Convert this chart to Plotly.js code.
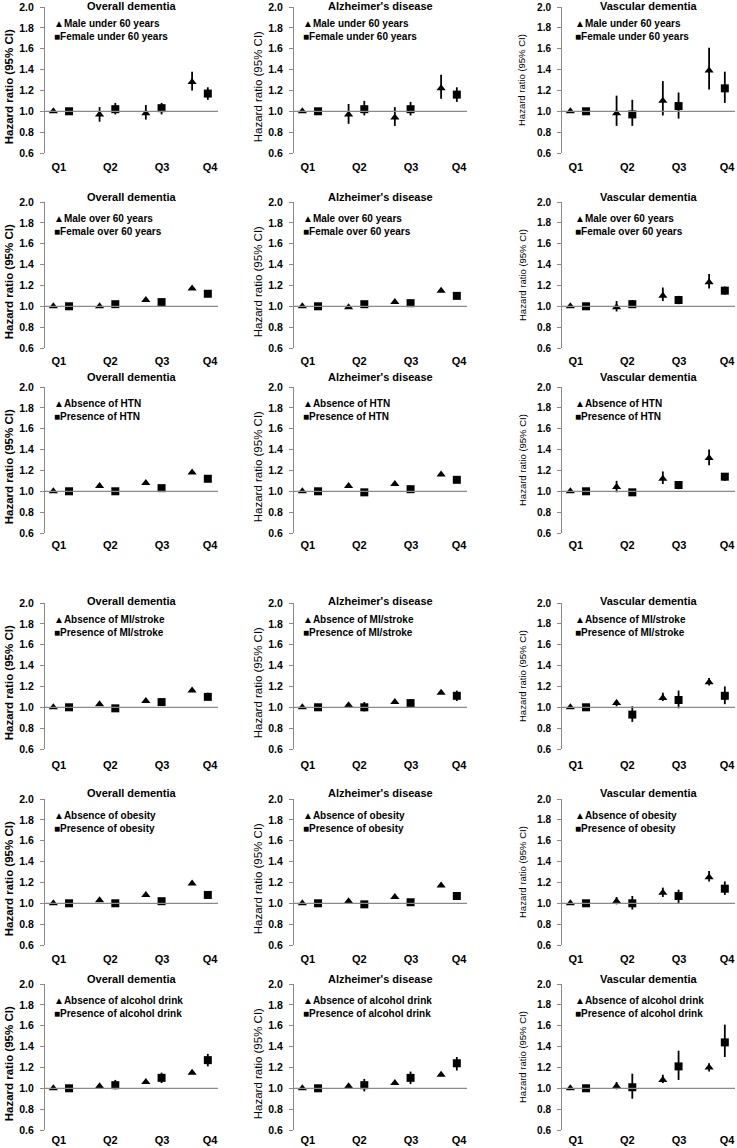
<!DOCTYPE html>
<html><head><meta charset="utf-8">
<script src="https://cdn.plot.ly/plotly-3.0.1.min.js"></script>
<style>body{margin:0;background:#fff}#chart{width:737px;height:1148px}</style>
</head><body><div id="chart"></div>
<script>
const quartiles = ["Q1", "Q2", "Q3", "Q4"];
const diseaseTitles = ["Overall dementia", "Alzheimer's disease", "Vascular dementia"];
const triangleLabels = ["Male under 60 years", "Male over 60 years", "Absence of HTN", "Absence of MI/stroke", "Absence of obesity", "Absence of alcohol drink"];
const squareLabels = ["Female under 60 years", "Female over 60 years", "Presence of HTN", "Presence of MI/stroke", "Presence of obesity", "Presence of alcohol drink"];
const yAxisTitle = "Hazard ratio (95% CI)";

// Panels in reading order (subgroup row x disease column); values for Q1..Q4
const triHR = [
  [1, 0.97, 0.98, 1.28], [1, 0.97, 0.94, 1.22], [1, 0.98, 1.10, 1.39],
  [1, 1.00, 1.06, 1.17], [1, 0.99, 1.04, 1.15], [1, 0.99, 1.10, 1.23],
  [1, 1.05, 1.08, 1.18], [1, 1.05, 1.07, 1.16], [1, 1.04, 1.12, 1.32],
  [1, 1.03, 1.06, 1.16], [1, 1.02, 1.05, 1.14], [1, 1.04, 1.09, 1.24],
  [1, 1.03, 1.08, 1.19], [1, 1.02, 1.06, 1.17], [1, 1.02, 1.10, 1.25],
  [1, 1.02, 1.06, 1.15], [1, 1.02, 1.05, 1.13], [1, 1.02, 1.08, 1.20]
];
const triLow = [
  [1, 0.90, 0.92, 1.20], [1, 0.88, 0.86, 1.12], [1, 0.86, 0.96, 1.21],
  [1, 0.99, 1.05, 1.16], [1, 0.98, 1.03, 1.14], [1, 0.95, 1.05, 1.17],
  [1, 1.04, 1.07, 1.17], [1, 1.04, 1.06, 1.15], [1, 0.99, 1.07, 1.25],
  [1, 1.02, 1.05, 1.15], [1, 1.01, 1.04, 1.13], [1, 1.01, 1.06, 1.21],
  [1, 1.02, 1.07, 1.18], [1, 1.01, 1.05, 1.16], [1, 0.99, 1.06, 1.21],
  [1, 1.01, 1.05, 1.14], [1, 1.01, 1.04, 1.12], [1, 0.99, 1.05, 1.16]
];
const triHigh = [
  [1, 1.04, 1.06, 1.38], [1, 1.07, 1.04, 1.35], [1, 1.15, 1.29, 1.61],
  [1, 1.01, 1.07, 1.19], [1, 1.00, 1.05, 1.17], [1, 1.05, 1.18, 1.31],
  [1, 1.06, 1.09, 1.20], [1, 1.06, 1.08, 1.17], [1, 1.10, 1.19, 1.40],
  [1, 1.04, 1.07, 1.17], [1, 1.03, 1.06, 1.15], [1, 1.07, 1.14, 1.28],
  [1, 1.04, 1.09, 1.20], [1, 1.03, 1.07, 1.18], [1, 1.06, 1.15, 1.31],
  [1, 1.03, 1.07, 1.16], [1, 1.03, 1.06, 1.14], [1, 1.06, 1.13, 1.24]
];
const sqHR = [
  [1, 1.02, 1.03, 1.17], [1, 1.02, 1.02, 1.16], [1, 0.97, 1.05, 1.22],
  [1, 1.02, 1.04, 1.12], [1, 1.02, 1.03, 1.10], [1, 1.02, 1.06, 1.15],
  [1, 1.00, 1.03, 1.12], [1, 0.99, 1.02, 1.11], [1, 0.99, 1.06, 1.14],
  [1, 0.99, 1.05, 1.10], [1, 1.00, 1.04, 1.11], [1, 0.93, 1.07, 1.11],
  [1, 1.00, 1.02, 1.08], [1, 0.99, 1.01, 1.07], [1, 1.00, 1.07, 1.14],
  [1, 1.03, 1.10, 1.27], [1, 1.03, 1.10, 1.24], [1, 1.01, 1.21, 1.44]
];
const sqLow = [
  [1, 0.97, 0.97, 1.11], [1, 0.96, 0.96, 1.09], [1, 0.86, 0.93, 1.08],
  [1, 1.01, 1.03, 1.11], [1, 1.01, 1.02, 1.09], [1, 0.99, 1.02, 1.11],
  [1, 0.99, 1.02, 1.11], [1, 0.98, 1.01, 1.10], [1, 0.96, 1.02, 1.10],
  [1, 0.96, 1.02, 1.07], [1, 0.96, 1.00, 1.06], [1, 0.86, 0.99, 1.03],
  [1, 0.99, 1.01, 1.07], [1, 0.98, 1.00, 1.06], [1, 0.94, 1.00, 1.08],
  [1, 0.99, 1.05, 1.21], [1, 0.97, 1.04, 1.17], [1, 0.90, 1.08, 1.30]
];
const sqHigh = [
  [1, 1.08, 1.08, 1.23], [1, 1.10, 1.09, 1.23], [1, 1.11, 1.18, 1.38],
  [1, 1.03, 1.05, 1.13], [1, 1.03, 1.04, 1.11], [1, 1.06, 1.10, 1.19],
  [1, 1.01, 1.04, 1.13], [1, 1.00, 1.03, 1.12], [1, 1.02, 1.09, 1.17],
  [1, 1.02, 1.08, 1.14], [1, 1.05, 1.08, 1.16], [1, 1.01, 1.16, 1.20],
  [1, 1.01, 1.03, 1.09], [1, 1.00, 1.02, 1.08], [1, 1.07, 1.13, 1.21],
  [1, 1.08, 1.15, 1.33], [1, 1.09, 1.16, 1.30], [1, 1.14, 1.36, 1.61]
];

// ---------- layout geometry (pixels) ----------
const W = 737, H = 1148;
const colLeft = [45, 294, 562], plotW = 173;
const rowTop = [7, 202, 387, 603, 799, 984], plotH = 146;
const FONT = "Liberation Sans, Arial, sans-serif";
const GRAY = "#8a8a8a";
const titleShift = [1, 5, 10, 2, 6, 5];
const qStandoff = [6, 5, 4, 8, 6, 2];

const data = [], annotations = [], shapes = [];
const layout = {
  width: W, height: H, margin: {l: 0, r: 0, t: 0, b: 0},
  paper_bgcolor: "#fff", plot_bgcolor: "rgba(0,0,0,0)",
  showlegend: false, font: {family: FONT, color: "#000"}
};

for (let k = 0; k < 18; k++) {
  const r = Math.floor(k / 3), c = k % 3;
  const sfx = k === 0 ? "" : String(k + 1);
  const xa = "x" + sfx, ya = "y" + sfx;
  const idx = quartiles.map((q, i) => i);
  const errT = triHR[k].map((v, i) => triHigh[k][i] - v);
  const errTm = triHR[k].map((v, i) => v - triLow[k][i]);
  const errS = sqHR[k].map((v, i) => sqHigh[k][i] - v);
  const errSm = sqHR[k].map((v, i) => v - sqLow[k][i]);
  data.push({
    type: "scatter", mode: "markers", xaxis: xa, yaxis: ya, cliponaxis: false,
    x: idx.map(i => i - 0.17), y: triHR[k], name: triangleLabels[r],
    marker: {symbol: "triangle-up", size: 8, color: "#000"},
    error_y: {type: "data", array: errT, arrayminus: errTm, symmetric: false, width: 0, thickness: 1.8, color: "#000"}
  });
  data.push({
    type: "scatter", mode: "markers", xaxis: xa, yaxis: ya, cliponaxis: false,
    x: idx.map(i => i + 0.17), y: sqHR[k], name: squareLabels[r],
    marker: {symbol: "square", size: 8, color: "#000"},
    error_y: {type: "data", array: errS, arrayminus: errSm, symmetric: false, width: 0, thickness: 1.8, color: "#000"}
  });
  const x0 = colLeft[c] / W, x1 = (colLeft[c] + plotW) / W;
  const y1 = 1 - rowTop[r] / H, y0 = 1 - (rowTop[r] + plotH) / H;
  layout["xaxis" + sfx] = {
    domain: [x0, x1], anchor: ya, range: [-0.35, 3.39],
    showline: false, showgrid: false, zeroline: false, ticks: "",
    tickmode: "array", tickvals: [-0.05, 1.06, 2.18, 3.22], ticktext: quartiles,
    ticklabelstandoff: qStandoff[r],
    tickfont: {family: FONT, size: 11, weight: "bold", color: "#000"}
  };
  layout["yaxis" + sfx] = {
    domain: [y0, y1], anchor: xa, range: [0.6, 2.0],
    showline: true, linecolor: GRAY, linewidth: 1, showgrid: false, zeroline: false,
    ticks: "outside", ticklen: 4, tickcolor: GRAY, tickwidth: 1,
    tickmode: "linear", tick0: 0.6, dtick: 0.2, tickformat: ".1f",
    ticklabelstandoff: 4,
    tickfont: {family: FONT, size: c === 2 ? 10 : 10.5, weight: "bold", color: "#000"}
  };
  shapes.push({type: "line", xref: xa + " domain", yref: ya, x0: 0, x1: 1, y0: 1, y1: 1,
    line: {color: GRAY, width: 1.2}});
  // panel title
  annotations.push({xref: xa + " domain", yref: ya + " domain", x: 0.5, y: 1, yanchor: "middle",
    yshift: titleShift[r], showarrow: false, text: diseaseTitles[c],
    font: {family: FONT, size: 11, weight: "bold", color: "#000"}});
  // y axis title
  annotations.push({xref: xa + " domain", yref: ya + " domain", x: (c === 2 ? -40 : -36) / plotW, y: c === 2 ? 0.5 : 0.45,
    xanchor: "center", yanchor: "middle", textangle: -90, showarrow: false, text: yAxisTitle,
    font: {family: FONT, size: c === 2 ? 9.5 : 11.5, weight: c === 0 ? "bold" : "normal", color: "#000"}});
  // in-plot legend (two lines in one text block)
  const lx = (c === 2 ? 11 : 7) / plotW;
  annotations.push({xref: xa + " domain", yref: ya, x: lx, y: 1.78, xanchor: "left", yanchor: "middle",
    align: "left", showarrow: false,
    text: "▲" + triangleLabels[r] + "<br>■" + squareLabels[r],
    font: {family: FONT, size: 10, weight: "bold", color: "#000"}});
}
layout.annotations = annotations;
layout.shapes = shapes;
Plotly.newPlot("chart", data, layout, {displayModeBar: false, staticPlot: true});
</script>
</body></html>
